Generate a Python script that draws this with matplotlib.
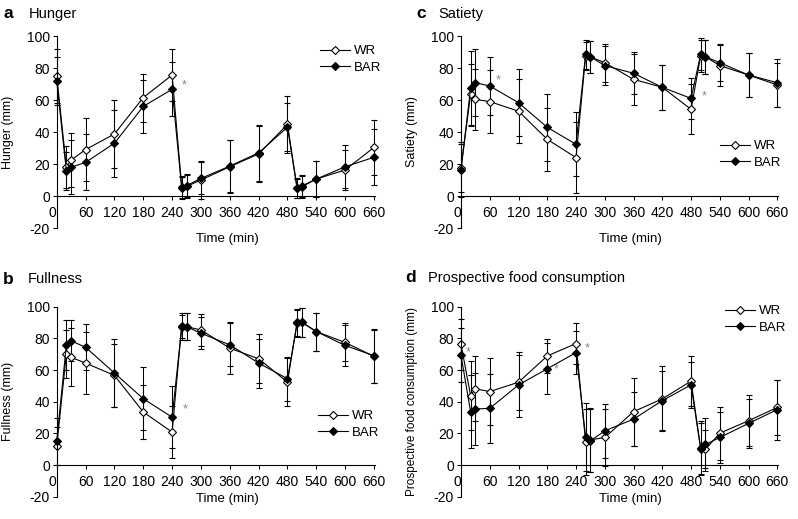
import matplotlib
matplotlib.use('Agg')
import matplotlib.pyplot as plt

plt.rcParams['font.family'] = ['Liberation Sans', 'DejaVu Sans']
plt.rcParams['axes.unicode_minus'] = False

time = [0, 20, 30, 60, 120, 180, 240, 260, 270, 300, 360, 420, 480, 500, 510, 540, 600, 660]

# a  Hunger
hunger_wr = [75, 18, 22.5, 29, 38.75, 61.5, 75.6, 5.5, 6, 10, 18.3, 26.3, 44.8, 5, 5.8, 10.6, 16.3, 30.4]
hunger_wr_sd = [17, 13, 17, 19.5, 21, 15, 16, 7, 7, 12, 16.5, 17.5, 18, 6, 7, 11, 12.5, 17]
hunger_bar = [72, 15.6, 18, 21, 33, 56, 66.7, 5, 6.5, 11, 18.7, 27, 43, 4.8, 6.3, 10.6, 18.3, 24.2]
hunger_bar_sd = [15, 12, 17, 17.5, 21, 16.5, 17, 7, 7, 10, 16.5, 17.5, 15, 6, 7, 11, 13.5, 17.5]

# b  Fullness
full_wr = [12, 70.2, 68, 64.4, 56.6, 33.5, 20.8, 88, 87.4, 85.3, 73.8, 67.1, 52.4, 90.1, 90.1, 84.3, 77.4, 68.6]
full_wr_sd = [12, 15, 18.3, 19.5, 20, 17, 16.6, 8, 8.5, 10, 16.5, 15.5, 15, 8.5, 9, 12, 12, 17]
full_bar = [15, 75.9, 78.4, 74.4, 58.1, 41.9, 30.2, 87, 87.4, 83.2, 75.9, 64.4, 54.5, 89.5, 90.1, 84.3, 75.5, 69]
full_bar_sd = [15, 16, 13, 14.5, 21.6, 20, 19.5, 8, 8.5, 10, 13.6, 15.5, 14, 8.5, 9, 12, 12.8, 17]

# c  Satiety
sat_wr = [17.5, 63.5, 60.4, 59, 53, 35.4, 24, 87.5, 87, 83.3, 72.9, 67.9, 54.2, 87.5, 87, 81.5, 75.6, 69.4]
sat_wr_sd = [15, 19, 19, 19.5, 20, 19.5, 22, 9, 10, 12, 16, 14, 15.5, 10, 10.5, 13, 13.5, 13.5]
sat_bar = [16.5, 67.3, 70.8, 68.75, 58.3, 42.9, 32.3, 88.5, 87, 81.5, 76.7, 67.9, 61, 88.5, 87, 83.3, 75.6, 70.8]
sat_bar_sd = [17, 23.5, 21, 18.3, 21, 21, 20, 9, 10, 12, 13, 14, 13, 10, 10.5, 11.7, 13.5, 15]

# d  Prospective food consumption
pfc_wr = [76.3, 43.9, 48.1, 46.4, 52.3, 68.9, 76.7, 14.6, 15.9, 17.4, 33.7, 41.8, 53, 10.5, 10, 20.1, 28, 36.4]
pfc_wr_sd = [16, 22, 20.5, 21, 17.5, 11, 12.7, 21, 20, 18, 21.5, 20.5, 15.9, 17, 12, 16.8, 16, 17.5]
pfc_bar = [69.3, 33.7, 35.4, 35.8, 50.6, 60.8, 71, 17.8, 15.3, 21.6, 29, 40.7, 50.6, 10.4, 13, 17.4, 26.3, 35]
pfc_bar_sd = [17, 23, 22.5, 21.7, 20.5, 16, 13.4, 21.6, 20, 17, 17, 18.5, 14.3, 16, 17, 16, 15.7, 19]

# significance stars (time, value)
hunger_stars = [(265, 69)]
full_stars = [(267, 35)]
sat_stars = [(78, 72), (508, 62)]
pfc_stars = [(15, 71), (264, 73.5), (199, 60.4)]

W, H = 798, 519
fig = plt.figure(figsize=(W / 100, H / 100), dpi=100)


def panel(rect, letter, title, ylabel, wr, wr_sd, bar, bar_sd, stars, leg_xy,
          title_xy, ylab_size=9, xlab_y=-0.025):
    ax = fig.add_axes(rect)
    kw = dict(color='black', lw=0.8, elinewidth=0.75, capsize=2, capthick=0.75,
              marker='D', ms=4.2, mec='black', mew=0.8, clip_on=False)
    e1 = ax.errorbar(time, wr, yerr=wr_sd, mfc='white', **kw)
    e2 = ax.errorbar(time, bar, yerr=bar_sd, mfc='black', **kw)
    for t, v in stars:
        ax.text(t, v, '*', color='#888888', fontsize=9, ha='center', va='center')
    ax.set_xlim(0, 662)
    ax.set_ylim(-20, 100)
    ax.set_xticks(range(0, 661, 60))
    ax.set_yticks(range(-20, 101, 20))
    for s in ['top', 'right']:
        ax.spines[s].set_visible(False)
    ax.spines['bottom'].set_position(('data', 0))
    ax.spines['left'].set_linewidth(0.8)
    ax.spines['bottom'].set_linewidth(0.8)
    ax.tick_params(axis='both', direction='out', length=3, width=0.75, labelsize=10)
    ax.tick_params(axis='x', pad=4)
    ax.tick_params(axis='y', pad=2)
    ax.get_xticklabels()[0].set_horizontalalignment('right')
    ax.set_xlabel('Time (min)', fontsize=9.5)
    ax.xaxis.set_label_coords(0.535, xlab_y)
    ax.set_ylabel(ylabel, fontsize=ylab_size)
    ax.yaxis.set_label_coords(-0.135, 0.5)
    ax.legend([e1.lines[0], e2.lines[0]], ['WR', 'BAR'], frameon=False, fontsize=9.5,
              loc='upper left', bbox_to_anchor=(leg_xy[0] / W, 1 - leg_xy[1] / H),
              bbox_transform=fig.transFigure, borderpad=0, borderaxespad=0,
              handlelength=2.3, handletextpad=0.3, labelspacing=0.35)
    fig.text(title_xy[0] / W, 1 - title_xy[2] / H, letter, fontsize=12.5,
             fontweight='bold', va='center', ha='left')
    fig.text(title_xy[1] / W, 1 - title_xy[2] / H, title, fontsize=10.5,
             va='center', ha='left')
    return ax


panel([0.0711, 1 - 228 / H, 0.3988, 192 / H], 'a', 'Hunger', 'Hunger (mm)',
      hunger_wr, hunger_wr_sd, hunger_bar, hunger_bar_sd, hunger_stars,
      (320, 45), (3, 29, 14))
panel([0.5777, 1 - 228 / H, 0.3976, 192 / H], 'c', 'Satiety', 'Satiety (mm)',
      sat_wr, sat_wr_sd, sat_bar, sat_bar_sd, sat_stars,
      (720, 140), (416, 438, 14))
panel([0.0711, 1 - 496.7 / H, 0.3988, 190 / H], 'b', 'Fullness', 'Fullness (mm)',
      full_wr, full_wr_sd, full_bar, full_bar_sd, full_stars,
      (318, 410), (3, 28, 279), xlab_y=0.02)
panel([0.5777, 1 - 496.7 / H, 0.3976, 190 / H], 'd', 'Prospective food consumption',
      'Prospective food consumption (mm)',
      pfc_wr, pfc_wr_sd, pfc_bar, pfc_bar_sd, pfc_stars,
      (725, 305), (405, 428, 278), ylab_size=8.5, xlab_y=0.02)

fig.savefig('out.png', dpi=100)
